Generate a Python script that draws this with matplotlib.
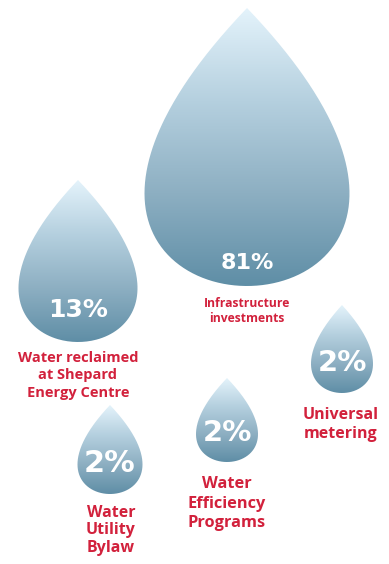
import numpy as np
import matplotlib.pyplot as plt
from matplotlib.path import Path
from matplotlib.patches import PathPatch
from matplotlib.colors import LinearSegmentedColormap

# data
categories = ["Infrastructure\ninvestments",
              "Water reclaimed\nat Shepard\nEnergy Centre",
              "Universal\nmetering",
              "Water\nEfficiency\nPrograms",
              "Water\nUtility\nBylaw"]
shares = [81, 13, 2, 2, 2]

# layout (pixel space): centre x, tip y, drop length, drop width
drop_cx = [247, 78, 342, 227, 110]
drop_tip = [8, 180, 305, 378, 405]
drop_len = [278, 162, 88, 84, 89]
drop_w = [205, 119, 62, 62, 65]
pct_y = [263, 310, 363, 433, 463]
pct_size = [16, 18, 21, 21, 22]
label_x = [247, 78, 341, 227, 111]
label_top = [297, 351, 407, 476, 505]
label_size = [8.7, 10.5, 11.5, 11.8, 11.5]
label_gap = [1.2, 1.3, 1.25, 1.3, 1.12]

red = "#d2213c"
cmap = LinearSegmentedColormap.from_list(
    "drop", ["#e4f3fb", "#b5d0df", "#8dafc2", "#5f8ea6"])

fig = plt.figure(figsize=(3.89, 5.64), dpi=100)
ax = fig.add_axes([0, 0, 1, 1])
ax.set_xlim(0, 389)
ax.set_ylim(564, 0)
ax.axis("off")

t = np.linspace(0, 2 * np.pi, 300)
grad = np.linspace(0, 1, 256).reshape(-1, 1)

for i in range(len(shares)):
    cx, tip, L, W = drop_cx[i], drop_tip[i], drop_len[i], drop_w[i]
    xs = cx + np.sin(t) * np.sin(t / 2) * (W / 2) / 0.7698
    ys = tip + (1 - np.cos(t)) / 2 * L
    patch = PathPatch(Path(np.column_stack([xs, ys])), facecolor="none",
                      edgecolor="none")
    ax.add_patch(patch)
    im = ax.imshow(grad, cmap=cmap, aspect="auto",
                   extent=[cx - W / 2 - 2, cx + W / 2 + 2, tip + L, tip],
                   interpolation="bilinear")
    im.set_clip_path(patch)

    ax.text(cx, pct_y[i], f"{shares[i]}%", color="white", fontsize=pct_size[i],
            fontweight="bold", family="DejaVu Sans", ha="center", va="center")
    ax.text(label_x[i], label_top[i], categories[i], color=red,
            fontsize=label_size[i], fontweight="bold", family="Open Sans",
            ha="center", va="top", linespacing=label_gap[i])

ax.set_xlim(0, 389)
ax.set_ylim(564, 0)
fig.savefig("out.png", dpi=100)
